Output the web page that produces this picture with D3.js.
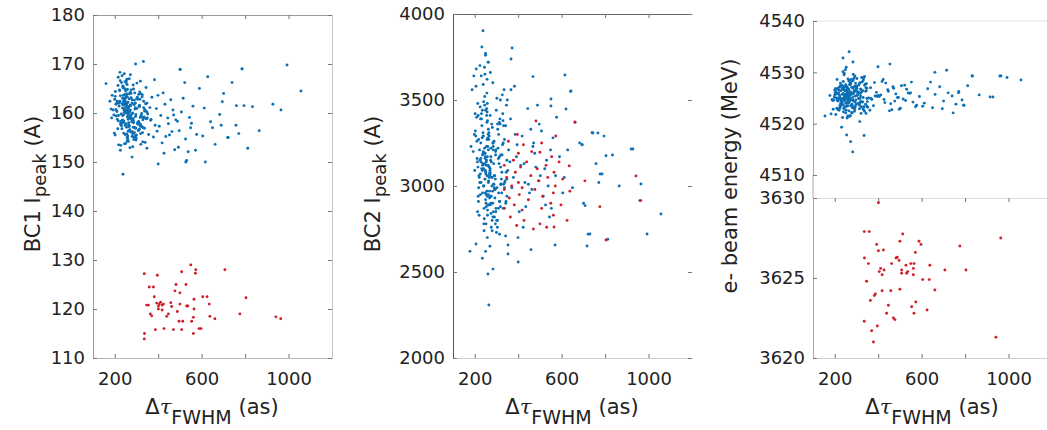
<!DOCTYPE html>
<html>
<head>
<meta charset="utf-8">
<title></title>
<style>
  body { margin: 0; background: #fff; }
</style>
</head>
<body>
<script src="https://d3js.org/d3.v7.min.js"></script>
<script>

// pulse duration of each blue shot (as), shared by the three panels
var shotX = [
  252,281,226,297,214,266,318,239,258,288,205,304,271,232,247,293,260,219,330,275,
  236,290,255,312,244,198,268,327,250,285,223,262,309,211,278,256,241,299,342,264,
  247,193,283,316,229,259,335,270,238,294,254,207,321,273,242,346,261,216,289,251,
  306,265,215,257,338,245,286,202,270,324,234,253,300,350,221,263,315,256,228,279,
  259,328,209,292,248,268,188,319,240,284,254,340,225,274,307,249,196,262,333,237,
  287,218,261,314,246,272,345,231,296,252,323,203,266,243,283,337,257,212,301,269,
  183,249,313,236,280,258,217,326,267,242,297,255,348,226,276,310,250,200,285,263,
  178,248,302,235,271,331,220,257,317,282,239,206,295,260,343,246,320,224,274,253,
  325,342,310,356,331,318,348,362,305,337,371,329,352,314,386,344,320,367,333,395,
  412,435,458,447,476,423,489,502,468,515,531,497,544,522,560,538,577,553,590,612,
  605,628,641,662,650,683,701,695,722,740,758,771,786,795,812,834,865,928,965,993,1057,
  348,365,378,392,405,418,431,444,463,481,507,526,549,572,399,383,427,452,471,493,
  244,268,231,289,257,213,276,302,240,263,295,222,251,283,236,309,259,272,228,247,
  262,235,291,250,274,218,305,243,267,285,229,256,314,239,278,246,298,224,265,253,
  271,227,258,296,241,280,210,264,287,233,252,321,245,276,216,261,292,238,269,249
];

// BC1 peak current (A) of the blue shots
var bc1Blue = [
  161.2,158.4,163.5,159.7,156.8,162.9,157.3,165.1,160.4,154.6,161.8,163.2,159.1,157.9,166.4,160.8,155.3,162.1,158.6,164.0,
  159.5,162.6,157.1,161.4,168.0,155.9,160.2,163.7,153.8,158.9,164.6,161.0,156.4,162.4,159.8,166.9,158.1,154.9,161.9,157.6,
  163.0,160.6,155.7,162.8,158.3,164.8,159.2,152.9,161.6,157.0,166.0,159.4,163.9,156.1,160.9,158.8,162.2,167.3,155.1,160.0,
  157.8,161.3,165.6,154.3,160.7,162.5,158.5,163.4,156.6,159.9,167.6,161.7,155.5,159.0,162.0,157.2,164.3,160.5,153.4,162.7,
  159.3,156.0,161.9,164.1,157.5,160.3,163.6,155.8,162.3,158.2,160.1,154.0,166.6,161.5,157.7,163.1,159.6,156.3,161.1,165.4,
  158.0,162.2,159.9,156.7,163.8,160.6,158.9,166.2,155.4,161.3,159.2,164.4,157.4,162.6,153.1,160.4,165.8,158.7,162.9,156.5,
  160.8,164.9,157.9,161.0,155.2,162.1,159.5,163.3,167.0,158.4,156.9,161.7,160.2,152.4,164.7,158.3,160.5,162.8,157.1,159.7,
  162.4,155.6,160.9,158.6,164.2,157.0,161.4,163.9,159.1,156.2,165.3,160.7,162.0,154.7,158.9,161.8,157.6,168.3,159.4,163.5,
  157.2,160.4,163.8,155.6,159.0,166.5,152.8,161.1,158.0,156.9,163.2,154.1,159.8,161.6,157.5,165.2,153.6,158.7,162.4,156.3,
  159.5,155.2,162.7,157.8,152.5,164.1,158.3,168.9,160.6,163.0,150.3,156.4,159.1,166.2,161.4,152.1,155.6,157.9,165.0,161.0,
  155.3,167.4,158.2,153.6,157.0,159.7,164.0,162.3,155.0,166.2,157.5,155.8,169.0,161.5,152.8,161.3,156.4,161.8,160.6,169.8,164.5,
  162.0,158.5,155.1,160.9,157.3,153.9,161.8,159.0,156.2,158.6,160.2,154.7,157.0,152.4,163.6,166.8,151.8,155.5,159.6,153.0,
  160.5,163.9,157.4,161.7,155.0,162.3,158.8,166.1,159.6,154.2,161.1,164.7,157.8,160.0,163.0,156.5,159.2,167.8,158.1,162.6,
  158.7,161.9,156.0,164.5,159.4,153.5,162.8,160.1,157.3,165.7,159.8,155.7,161.3,163.6,158.2,160.8,154.5,162.4,159.0,166.5,
  161.6,157.7,163.3,159.3,155.9,162.0,160.3,158.0,164.9,156.8,161.5,159.5,153.7,163.1,158.4,160.9,157.0,165.5,159.1,162.2
];

// BC2 peak current (A) of the blue shots
var bc2Blue = [
  3120,3340,2950,3210,3480,3050,2880,3590,3170,3010,3290,2760,3410,3100,3650,2930,3230,3060,3380,2840,
  3180,2990,3450,3130,2810,3300,3070,3530,2920,3250,3020,3720,2870,3160,3360,2970,3100,3440,2710,3270,
  3040,3200,2900,3390,3140,2830,3560,3090,3310,2980,3230,3680,3010,3150,2780,3470,3120,2940,3260,3070,
  3330,2890,3110,3620,3020,3190,2850,3420,3080,2960,3280,3140,2730,3500,3050,3210,2910,3370,3160,3000,
  2860,3240,3400,3060,3190,2970,3560,3110,3290,2820,3150,3030,3460,2900,3220,3090,3640,2950,3350,3130,
  3010,3270,2890,3170,3520,2940,3080,3390,3200,2780,3040,3320,3110,2870,3250,2990,3430,3140,2800,3060,
  3230,2960,3370,3120,3050,3480,2910,3180,3290,3000,2850,3410,3150,3070,2940,3300,3770,3090,3210,3020,
  2620,3160,2990,3440,3100,3250,2830,3060,3360,2970,3190,3580,3040,3280,2900,3130,3010,3700,3220,2880,
  3080,3350,2960,3210,2870,3500,3040,3140,2800,3270,2990,3420,3090,2720,3300,2910,3180,3560,3010,3240,
  3120,2880,3330,3010,3190,2760,3470,3060,3230,2940,3150,3360,2820,3100,3280,3000,3400,2870,3170,3050,
  2960,3210,3550,3370,2990,3250,2900,3240,2720,3310,3130,3020,3070,3290,2690,3180,3000,3215,3012,2721,2837,
  2940,3390,3050,3170,2850,3290,3020,3450,2980,3110,3320,2890,3210,3060,2700,3580,3130,2960,3250,3030,
  3190,2930,3420,3060,3270,2850,3140,3510,3000,3330,2780,3210,3080,3600,2960,3160,3380,2890,3250,3040,
  3300,3090,2820,3440,3170,2990,3360,2740,3110,3230,3020,3540,2910,3200,3050,3470,2870,3150,3310,2950,
  3070,3390,2940,3180,3490,2800,3260,3030,3130,3350,2900,3010,3220,2760,3410,3120,2980,3290,3060,3170
];

// e- beam energy (MeV) of the blue shots
var energyBlue = [
  4525.3,4523.1,4527.4,4524.6,4526.8,4522.5,4525.9,4528.2,4524.0,4526.1,4521.8,4525.5,4527.9,4523.6,4525.0,4529.3,4524.4,4526.5,4522.9,4525.7,
  4524.8,4527.2,4523.4,4526.0,4529.8,4525.2,4521.4,4524.3,4527.6,4525.8,4523.0,4526.7,4524.9,4528.6,4522.2,4525.4,4527.0,4523.8,4526.3,4524.1,
  4526.4,4522.8,4525.1,4528.0,4524.5,4526.9,4523.3,4525.6,4530.1,4524.2,4527.3,4525.0,4522.0,4526.2,4524.7,4527.8,4523.5,4525.9,4528.9,4524.0,
  4523.9,4526.6,4524.8,4521.1,4527.5,4525.3,4523.2,4526.0,4524.6,4529.0,4525.7,4522.6,4526.8,4524.3,4527.1,4525.5,4520.4,4524.9,4526.4,4523.7,
  4527.0,4524.2,4525.8,4523.0,4526.5,4528.4,4524.7,4525.4,4522.3,4526.9,4524.0,4527.7,4525.1,4523.5,4526.2,4530.5,4524.6,4525.9,4522.7,4526.7,
  4524.4,4526.0,4528.7,4523.6,4525.6,4521.6,4526.4,4524.8,4527.4,4525.2,4523.3,4526.8,4524.1,4529.5,4525.8,4522.4,4526.1,4524.5,4527.2,4525.0,
  4521.9,4525.7,4524.0,4527.3,4523.8,4526.3,4525.0,4528.1,4524.3,4522.9,4526.6,4525.3,4523.4,4527.9,4524.6,4526.0,4522.1,4525.6,4528.5,4524.7,
  4525.5,4523.3,4526.9,4524.2,4527.6,4525.1,4522.6,4526.4,4524.9,4528.3,4523.7,4526.2,4525.4,4521.5,4527.0,4524.5,4526.7,4523.1,4525.9,4531.0,
  4526.2,4523.8,4527.5,4525.0,4528.4,4524.3,4526.9,4522.6,4525.7,4529.2,4524.7,4526.4,4523.2,4527.8,4525.4,4522.0,4526.7,4524.9,4528.8,4525.3,
  4525.6,4527.9,4523.9,4526.3,4524.4,4528.6,4525.1,4523.0,4527.2,4524.8,4526.7,4522.8,4525.9,4527.5,4524.2,4526.0,4523.6,4528.1,4525.3,4524.0,
  4523.4,4526.8,4528.1,4525.7,4523.1,4527.2,4524.4,4522.9,4526.0,4525.4,4523.8,4526.3,4524.6,4523.6,4527.4,4529.3,4525.6,4525.2,4529.3,4529.0,4528.5,
  4524.9,4527.0,4523.5,4526.1,4525.3,4528.2,4524.1,4526.6,4522.7,4525.8,4527.4,4524.5,4526.0,4523.3,4525.5,4528.0,4524.7,4522.5,4526.9,4525.1,
  4525.2,4527.6,4523.7,4526.4,4524.1,4522.8,4525.8,4528.8,4524.9,4526.7,4523.4,4525.5,4527.3,4524.6,4521.2,4526.1,4525.0,4528.0,4523.9,4526.5,
  4524.3,4526.9,4522.4,4525.6,4527.8,4524.8,4526.2,4523.1,4525.3,4529.6,4524.0,4526.6,4522.9,4525.9,4527.1,4524.5,4526.3,4523.5,4528.3,4525.2,
  4526.0,4523.6,4525.4,4527.9,4524.7,4522.1,4526.8,4525.1,4523.2,4527.5,4525.7,4524.2,4526.5,4528.6,4524.4,4525.3,4522.8,4526.9,4524.8,4527.2
];

// isolated blue shots read separately in each panel, [duration, value]
var bc1Extra = [[238,147.5],[160,166],[296,170],[332,170.5],[280,151],[186,159],[202,155.5],[786,169],
  [617,150],[527,150],[400,149.6],[500,168.9],[760,161.5],[720,155],[690,157.5]];
var bc2Extra = [[238,3903],[233,3808],[372,3802],[367,3738],[468,3636],[615,3645],[643,3552],[551,3506],
  [551,3465],[620,3448],[250,3760],[262,3720],[245,3690],[272,3660],[230,3640],[206,2663],[235,2580],
  [284,2517],[261,2488],[265,2308],[258,2700],[270,2650],[250,2620],[280,2740],[400,2558],[353,2657],
  [353,2605],[459,2630],[570,2657],[717,2651],[730,2721],[744,3308],[767,3308],[804,3176],[920,3215],
  [960,2915],[693,3240],[708,2886],[777,3070]];
var energyExtra = [[266,4534],[238,4532.8],[284,4532],[454,4531.6],[399,4531.1],[155,4521.5],[232,4519.3],
  [283,4514.5],[273,4516.5],[255,4517.8],[335,4517.7],[745,4522.1],[715,4530.4],[661,4530],[832,4529.3],
  [960,4529.3],[915,4525.2],[190,4524.5],[200,4526.5],[210,4523],[770,4526],[793,4523.6]];

// red shots
var redX = [336,336,337,347,355,359,378,364,370,396,382,387,393,401,405,411,418,424,401,418,
  427,439,447,458,462,470,482,477,488,500,508,496,500,508,513,528,531,536,550,573,
  571,554,562,565,565,562,588,597,605,625,635,638,661,707,776,804,942,964];
var bc1Red = [127.2,113.9,115.0,120.8,120.8,124.5,124.5,119.0,118.6,126.9,122.5,115.8,121.2,120.6,121.0,121.4,120.8,121.0,120.0,119.8,
  116.0,118.5,119.0,121.3,120.5,115.8,125.0,123.7,119.5,123.3,127.6,117.5,121.0,115.8,117.5,125.0,120.6,120.6,129.0,128.0,
  127.3,117.5,118.3,120.0,122.0,115.0,116.0,116.0,122.5,122.5,121.0,118.5,118.0,128.0,119.0,122.3,118.4,118.0];
var bc2Red = [2980,3120,2870,3050,3260,2930,3150,2820,3000,3300,2890,3080,2770,3190,2950,3110,2860,3240,3020,2990,
  2800,3140,2920,3060,3200,2750,3378,2980,3100,3196,2870,3030,2780,3250,2940,3120,2760,3050,2900,3291,
  3000,3170,2830,3080,2762,2960,3140,2890,3040,2800,3117,2970,3372,3030,2880,2686,3058,2915];
var energyRed = [3627.9,3622.3,3626.25,3624.8,3625.9,3627.9,3621.0,3623.6,3621.7,3622.0,3623.9,3624.0,3627.1,3626.7,3625.4,3625.6,3625.2,3626.75,3629.7,3624.2,
  3625.5,3622.8,3623.3,3624.2,3625.9,3622.5,3626.25,3622.4,3626.3,3627.3,3625.5,3626.1,3624.3,3625.3,3627.75,3625.8,3625.3,3625.4,3625.9,3623.5,
  3626.6,3623.2,3625.6,3625.9,3622.8,3625.2,3627.3,3627.1,3624.9,3623.0,3624.9,3625.8,3624.25,3625.5,3627.0,3625.5,3621.3,3627.5];

// tick values and labels
var xTicks = [200, 400, 600, 800, 1000];
var xTickLabels = ["200", "", "600", "", "1000"];
var bc1Ticks = [110, 120, 130, 140, 150, 160, 170, 180];
var bc2Ticks = [2000, 2500, 3000, 3500, 4000];
var energyTopTicks = [4510, 4520, 4530, 4540];
var energyBottomTicks = [3620, 3625, 3630];

var blue = "#0b6fb5",
    red = "#cf1f2a",
    tickFont = "'DejaVu Sans', sans-serif";

var svg = d3.select("body")
    .append("svg")
    .attr("width", 1047)
    .attr("height", 430)
    .style("background", "#fff");

var plotWidth = 239;

function makeX(left) {
    return d3.scaleLinear().domain([100, 1200]).range([left, left + plotWidth]);
}

function styleAxis(g, lineColor) {
    g.attr("font-family", tickFont).attr("font-size", 18);
    g.select(".domain").attr("stroke", lineColor || "none");
    g.selectAll(".tick line").attr("stroke", "#777");
    g.selectAll(".tick text").attr("fill", "#222");
}

// left axis with labels, right axis with ticks only
function yAxes(y, ticks, left, color, rightColor) {
    var gl = svg.append("g")
        .attr("transform", "translate(" + left + ",0)")
        .call(d3.axisLeft(y).tickValues(ticks).tickSizeInner(-4).tickSizeOuter(0)
            .tickPadding(8).tickFormat(d3.format("d")));
    styleAxis(gl, color);
    var gr = svg.append("g")
        .attr("transform", "translate(" + (left + plotWidth) + ",0)")
        .call(d3.axisRight(y).tickValues(ticks).tickSizeInner(-4).tickSizeOuter(0).tickFormat(""));
    styleAxis(gr, rightColor);
}

function xAxes(x, bottom, top, bottomColor, topColor) {
    var gb = svg.append("g")
        .attr("transform", "translate(0," + bottom + ")")
        .call(d3.axisBottom(x).tickValues(xTicks).tickSizeInner(-4).tickSizeOuter(0)
            .tickPadding(14).tickFormat(function(d, i) { return xTickLabels[i]; }));
    styleAxis(gb, bottomColor);
    if (top != null) {
        var gt = svg.append("g")
            .attr("transform", "translate(0," + top + ")")
            .call(d3.axisTop(x).tickValues(xTicks).tickSizeInner(-4).tickSizeOuter(0).tickFormat(""));
        styleAxis(gt, topColor);
    }
}

function dots(x, y, xs, ys, color) {
    svg.append("g").selectAll("circle")
        .data(d3.range(xs.length).filter(function(i) { return ys[i] != null; }))
        .enter()
        .append("circle")
        .attr("cx", function(i) { return x(xs[i]); })
        .attr("cy", function(i) { return y(ys[i]); })
        .attr("r", 1.45)
        .attr("fill", color);
}

function extraDots(x, y, pts, color) {
    dots(x, y, pts.map(function(p) { return p[0]; }), pts.map(function(p) { return p[1]; }), color);
}

function yLabel(cx, cy, main, sub, rest) {
    var t = svg.append("text")
        .attr("transform", "translate(" + cx + "," + cy + ") rotate(-90)")
        .attr("text-anchor", "middle")
        .attr("font-family", tickFont)
        .attr("font-size", 21)
        .attr("fill", "#222");
    t.append("tspan").text(main);
    if (sub) {
        t.append("tspan").attr("dy", 6).attr("font-size", 18).text(sub);
        t.append("tspan").attr("dy", -6).text(rest);
    }
}

function xLabel(cx, baseline) {
    var t = svg.append("text")
        .attr("x", cx)
        .attr("y", baseline)
        .attr("text-anchor", "middle")
        .attr("font-family", tickFont)
        .attr("font-size", 21)
        .attr("fill", "#222");
    t.append("tspan").text("\u0394");
    t.append("tspan").attr("font-family", "'DejaVu Serif', serif").attr("font-style", "italic").text("\u03C4");
    t.append("tspan").attr("dy", 10).attr("font-size", 19).text("FWHM");
    t.append("tspan").attr("dy", -10).text(" (as)");
}

// panel 1: BC1 peak current
var x1 = makeX(93);
var y1 = d3.scaleLinear().domain([110, 180]).range([358, 15]);
xAxes(x1, 358, 15, "#b4b4b4", "#9a9a9a");
yAxes(y1, bc1Ticks, 93, "#9a9a9a", "#c4c4c4");
dots(x1, y1, shotX, bc1Blue, blue);
extraDots(x1, y1, bc1Extra, blue);
dots(x1, y1, redX, bc1Red, red);
yLabel(40, 184, "BC1 I", "peak", " (A)");
xLabel(212, 414);

// panel 2: BC2 peak current
var x2 = makeX(453);
var y2 = d3.scaleLinear().domain([2000, 4000]).range([358, 14]);
xAxes(x2, 358, 14, "#cfcfcf", "#666");
yAxes(y2, bc2Ticks, 453, "#555", null);
dots(x2, y2, shotX, bc2Blue, blue);
extraDots(x2, y2, bc2Extra, blue);
dots(x2, y2, redX, bc2Red, red);
yLabel(380, 184, "BC2 I", "peak", " (A)");
xLabel(572, 414);

// panel 3: broken energy axis, blue shots above, red shots below
var x3 = makeX(813);
var y3top = d3.scaleLinear().domain([4510, 4540]).range([175, 21]);
var y3bot = d3.scaleLinear().domain([3620, 3630]).range([358, 198]);
svg.append("line")
    .attr("x1", 813).attr("x2", 1047)
    .attr("y1", y3top(4540)).attr("y2", y3top(4540))
    .attr("stroke", "#e2e2e2");
xAxes(x3, 358, 198, "#cfcfcf", "#dddddd");
yAxes(y3top, energyTopTicks, 813, "#a8a8a8", null);
yAxes(y3bot, energyBottomTicks, 813, "#a8a8a8", null);
svg.append("line")
    .attr("x1", 813).attr("x2", 813)
    .attr("y1", y3top(4510)).attr("y2", y3bot(3630))
    .attr("stroke", "#a8a8a8");
dots(x3, y3top, shotX, energyBlue, blue);
extraDots(x3, y3top, energyExtra, blue);
dots(x3, y3bot, redX, energyRed, red);
yLabel(737, 176, "e- beam energy (MeV)");
xLabel(932, 414);

</script>
</body>
</html>
